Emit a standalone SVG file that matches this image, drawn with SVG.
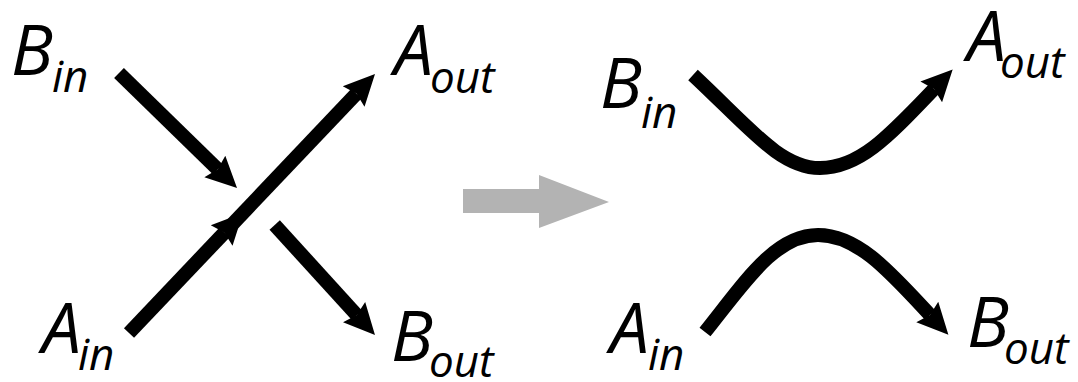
<svg xmlns="http://www.w3.org/2000/svg" width="1078" height="382" viewBox="0 0 1078 382">
<style>
.lbl{font-family:"Open Sans","DejaVu Sans",sans-serif;font-style:italic;fill:#000}
.main{font-size:70px}
.sub{font-size:44px}
.ln{fill:none;stroke:#000;stroke-width:14;marker-end:url(#ah)}
</style>
<defs>
<marker id="ah" markerUnits="userSpaceOnUse" viewBox="-5 -16 34 32" refX="0" refY="0" markerWidth="34" markerHeight="32" orient="auto">
<path d="M0 0 L-4 -15 L27 0 L-4 15 Z" fill="#000"/>
</marker>
</defs>
<rect width="1078" height="382" fill="#fff"/>
<g id="connectors">
<path class="ln" d="M119 73 L217.7 169.2"/>
<path class="ln" d="M129 333 L224.4 232.6"/>
<path class="ln" d="M224.4 232.6 L356.4 93.6"/>
<path class="ln" d="M274.7 225 L356.8 315.1"/>
<path class="ln" d="M693 75 C750 128 780 168 820 168 C860 168 890 135 934 89"/>
<path class="ln" d="M705 332 C745 282 775 235 818 235 C858 235 890 272 930 315"/>
<polygon points="463,189 539,189 539,175 609,202 539,228 539,213 463,213" fill="#b3b3b3"/>
</g>
<g id="B_in_left"><text class="lbl main" x="11" y="75">B</text><text class="lbl sub" x="52" y="92">in</text></g>
<g id="A_out_left"><text class="lbl main" x="394" y="75">A</text><text class="lbl sub" x="430" y="93">out</text></g>
<g id="A_in_left"><text class="lbl main" x="42" y="353">A</text><text class="lbl sub" x="78" y="370">in</text></g>
<g id="B_out_left"><text class="lbl main" x="391" y="361">B</text><text class="lbl sub" x="429" y="377">out</text></g>
<g id="A_out_right"><text class="lbl main" x="967" y="61">A</text><text class="lbl sub" x="1000" y="78">out</text></g>
<g id="B_in_right"><text class="lbl main" x="600" y="108">B</text><text class="lbl sub" x="641" y="128">in</text></g>
<g id="A_in_right"><text class="lbl main" x="610" y="353">A</text><text class="lbl sub" x="648" y="370">in</text></g>
<g id="B_out_right"><text class="lbl main" x="967" y="347">B</text><text class="lbl sub" x="1004" y="364">out</text></g>
</svg>
